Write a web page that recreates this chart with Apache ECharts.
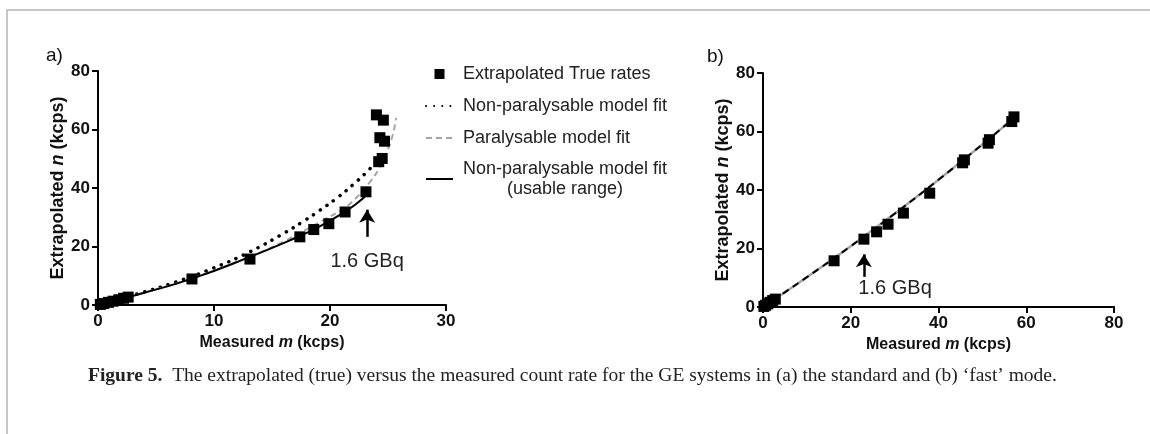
<!DOCTYPE html>
<html>
<head>
<meta charset="utf-8">
<script src="https://cdn.jsdelivr.net/npm/echarts@6/dist/echarts.min.js"></script>
<style>
html, body { margin: 0; padding: 0; background: #fff; }
#main { width: 1150px; height: 434px; }
</style>
</head>
<body>
<div id="main"></div>
<script>
// panel a: standard mode, [measured m, extrapolated n] in kcps
var ratesA = [
    [0.2, 0.2], [0.5, 0.5], [0.9, 0.9], [1.3, 1.3], [1.8, 1.8], [2.2, 2.3], [2.6, 2.7],
    [8.1, 8.9], [13.1, 15.7], [17.4, 23.3], [18.6, 25.8], [19.9, 27.8], [21.3, 31.8],
    [23.1, 38.7], [24.2, 49.0], [24.5, 50.1], [24.3, 57.2], [24.7, 56.0], [24.0, 65.0], [24.6, 63.2]
];
var nonParA = [
    [0, 0], [4, 4.5], [6.6, 7.7], [9.8, 12.4], [13, 18.0], [16.1, 24.7], [17.7, 28.6],
    [19.1, 32.3], [20.6, 36.6], [22, 41.2], [23.3, 46.0], [24.1, 49.5]
];
var parA = [
    [0, 0], [4, 4.3], [8, 8.9], [12.5, 15.6], [16, 21.7], [19.4, 29.0], [21.1, 32.8],
    [22.2, 36.4], [23.4, 41.8], [24.3, 47.2], [24.9, 52.3], [25.4, 58.0], [25.7, 64.0]
];
var usableA = [
    [0, 0], [4, 4.2], [8.1, 9.0], [13, 16.3], [17, 22.9], [19, 26.6], [21.1, 31.4],
    [22.3, 34.7], [23.2, 37.8]
];

// panel b: 'fast' mode
var ratesB = [
    [0.2, 0.2], [0.6, 0.6], [1.1, 1.1], [1.6, 1.6], [2.2, 2.2], [2.8, 2.7],
    [16.2, 15.8], [23, 23.2], [25.9, 25.7], [28.5, 28.3], [32, 32.1], [38, 38.9],
    [45.5, 49.3], [45.9, 50.3], [51.3, 56.0], [51.6, 57.2], [56.7, 63.4], [57.2, 65.0]
];
var fitB = [
    [0, 0], [10, 10.2], [20, 20.8], [30, 31.9], [40, 43.5], [50, 55.6], [57.5, 65]
];

// 1.6 GBq annotations
var arrowA = [[23.2, 23.3], [23.2, 32.6]];
var labelA = [23.2, 14.9];
var arrowB = [[23, 10.3], [23, 18.0]];
var labelB = [30.1, 6.2];

var legendNames = [
    'Extrapolated True rates',
    'Non-paralysable model fit',
    'Paralysable model fit',
    'Non-paralysable model fit (usable range)'
];

var sans = 'Liberation Sans, Arial, sans-serif';
var serif = 'Liberation Serif, Times New Roman, serif';

function valueAxis(idx, max, extra) {
    var ax = {
        type: 'value',
        gridIndex: idx,
        min: 0,
        max: max,
        interval: max === 30 ? 10 : 20,
        nameLocation: 'middle',
        axisLine: { show: true, onZero: false, lineStyle: { color: '#000', width: 2 } },
        axisTick: { show: true, length: 6, lineStyle: { color: '#000', width: 2 } },
        axisLabel: { fontSize: 17, fontWeight: 'bold', color: '#111', fontFamily: sans, margin: 8 },
        splitLine: { show: false }
    };
    for (var k in extra) ax[k] = extra[k];
    return ax;
}

var xName = 'Measured {i|m} (kcps)';
var yName = 'Extrapolated {i|n} (kcps)';
var xNameStyle = {
    fontSize: 16, fontWeight: 'bold', color: '#111', fontFamily: sans,
    rich: { i: { fontSize: 16, fontWeight: 'bold', fontStyle: 'italic', color: '#111', fontFamily: sans } }
};
var yNameStyle = {
    fontSize: 18, fontWeight: 'bold', color: '#111', fontFamily: sans,
    rich: { i: { fontSize: 18, fontWeight: 'bold', fontStyle: 'italic', color: '#111', fontFamily: sans } }
};

var annotText = { show: true, position: 'inside', formatter: '1.6 GBq', fontSize: 20, color: '#222', fontFamily: sans };
var hidden = { color: 'rgba(0,0,0,0)', opacity: 0 };
var clear = { color: 'rgba(0,0,0,0)' };

var myChart = echarts.init(document.getElementById('main'));

var option = {
    animation: false,
    backgroundColor: '#fff',
    grid: [
        { left: 98, top: 71, width: 348, height: 234 },
        { left: 763, top: 73, width: 351, height: 234 }
    ],
    xAxis: [
        valueAxis(0, 30, { name: xName, nameGap: 24, nameTextStyle: xNameStyle }),
        valueAxis(1, 80, { name: xName, nameGap: 24, nameTextStyle: xNameStyle })
    ],
    yAxis: [
        valueAxis(0, 80, { name: yName, nameGap: 28, nameTextStyle: yNameStyle }),
        valueAxis(1, 80, { name: yName, nameGap: 30, nameTextStyle: yNameStyle })
    ],
    legend: {
        data: [
            { name: legendNames[0], icon: 'path://M0,0H10V10H0Z', itemStyle: { color: '#000', opacity: 1 } },
            { name: legendNames[1], itemStyle: hidden },
            { name: legendNames[2], itemStyle: hidden },
            { name: legendNames[3], itemStyle: hidden }
        ],
        orient: 'vertical',
        left: 420,
        top: 58,
        itemWidth: 27,
        itemHeight: 10,
        itemGap: 10,
        symbolKeepAspect: true,
        selectedMode: false,
        formatter: function (name) {
            if (name === legendNames[3]) {
                return '{t|Non-paralysable model fit}\n{c|(usable range)}';
            }
            return name;
        },
        textStyle: {
            fontSize: 18, color: '#222', fontFamily: sans, lineHeight: 22,
            padding: [0, 0, 0, 5],
            rich: {
                t: { fontSize: 18, color: '#222', fontFamily: sans, lineHeight: 20 },
                c: { fontSize: 18, color: '#222', fontFamily: sans, lineHeight: 20, align: 'center' }
            }
        }
    },
    series: [
        {
            name: legendNames[1], type: 'line', xAxisIndex: 0, yAxisIndex: 0,
            data: nonParA, smooth: true, symbol: 'none', z: 2,
            itemStyle: hidden,
            lineStyle: { color: '#000', width: 3.5, type: [0.1, 8], cap: 'round' }
        },
        {
            name: legendNames[2], type: 'line', xAxisIndex: 0, yAxisIndex: 0,
            data: parA, smooth: true, symbol: 'none', z: 2,
            itemStyle: hidden,
            lineStyle: { color: '#a6a6a6', width: 2, type: [6, 4] }
        },
        {
            name: legendNames[3], type: 'line', xAxisIndex: 0, yAxisIndex: 0,
            data: usableA, smooth: true, symbol: 'none', z: 3,
            itemStyle: hidden,
            lineStyle: { color: '#000', width: 2, type: 'solid' }
        },
        {
            name: legendNames[0], type: 'scatter', xAxisIndex: 0, yAxisIndex: 0,
            data: ratesA, symbol: 'rect', symbolSize: 11, z: 4,
            itemStyle: { color: '#000', opacity: 1 },
            markLine: {
                silent: true, symbol: ['none', 'arrow'], symbolSize: [12, 13],
                lineStyle: { color: '#000', width: 2.5, type: 'solid' },
                label: { show: false },
                data: [[{ coord: arrowA[0] }, { coord: arrowA[1] }]]
            },
            markPoint: {
                silent: true, symbol: 'rect', symbolSize: 1,
                itemStyle: clear,
                label: annotText,
                data: [{ coord: labelA }]
            }
        },
        {
            name: 'fit b gray', type: 'line', xAxisIndex: 1, yAxisIndex: 1,
            data: fitB, smooth: true, symbol: 'none', z: 2,
            lineStyle: { color: '#a6a6a6', width: 2.5 }
        },
        {
            name: 'fit b dash', type: 'line', xAxisIndex: 1, yAxisIndex: 1,
            data: fitB, smooth: true, symbol: 'none', z: 3,
            lineStyle: { color: '#000', width: 2, type: [7, 5] }
        },
        {
            name: 'rates b', type: 'scatter', xAxisIndex: 1, yAxisIndex: 1,
            data: ratesB, symbol: 'rect', symbolSize: 11, z: 4,
            itemStyle: { color: '#000', opacity: 1 },
            markLine: {
                silent: true, symbol: ['none', 'arrow'], symbolSize: [12, 13],
                lineStyle: { color: '#000', width: 2.5, type: 'solid' },
                label: { show: false },
                data: [[{ coord: arrowB[0] }, { coord: arrowB[1] }]]
            },
            markPoint: {
                silent: true, symbol: 'rect', symbolSize: 1,
                itemStyle: clear,
                label: annotText,
                data: [{ coord: labelB }]
            }
        }
    ],
    graphic: [
        {
            type: 'polyline', silent: true,
            shape: { points: [[7, 434], [7, 10], [1150, 10]] },
            style: { stroke: '#b5b5b5', lineWidth: 1.5, fill: null }
        },
        {
            type: 'text', left: 46, top: 46,
            style: { text: 'a)', fontSize: 19, fill: '#111', fontFamily: sans }
        },
        {
            type: 'text', left: 707, top: 47,
            style: { text: 'b)', fontSize: 19, fill: '#111', fontFamily: sans }
        },
        {
            type: 'text', left: 88, top: 366,
            style: {
                text: '{b|Figure 5.}  The extrapolated (true) versus the measured count rate for the GE systems in (a) the standard and (b) \u2018fast\u2019 mode.',
                fontSize: 19.5, fill: '#222', fontFamily: serif,
                rich: { b: { fontSize: 19.5, fontWeight: 'bold', fill: '#222', fontFamily: serif } }
            }
        }
    ]
};

myChart.setOption(option);
</script>
</body>
</html>
